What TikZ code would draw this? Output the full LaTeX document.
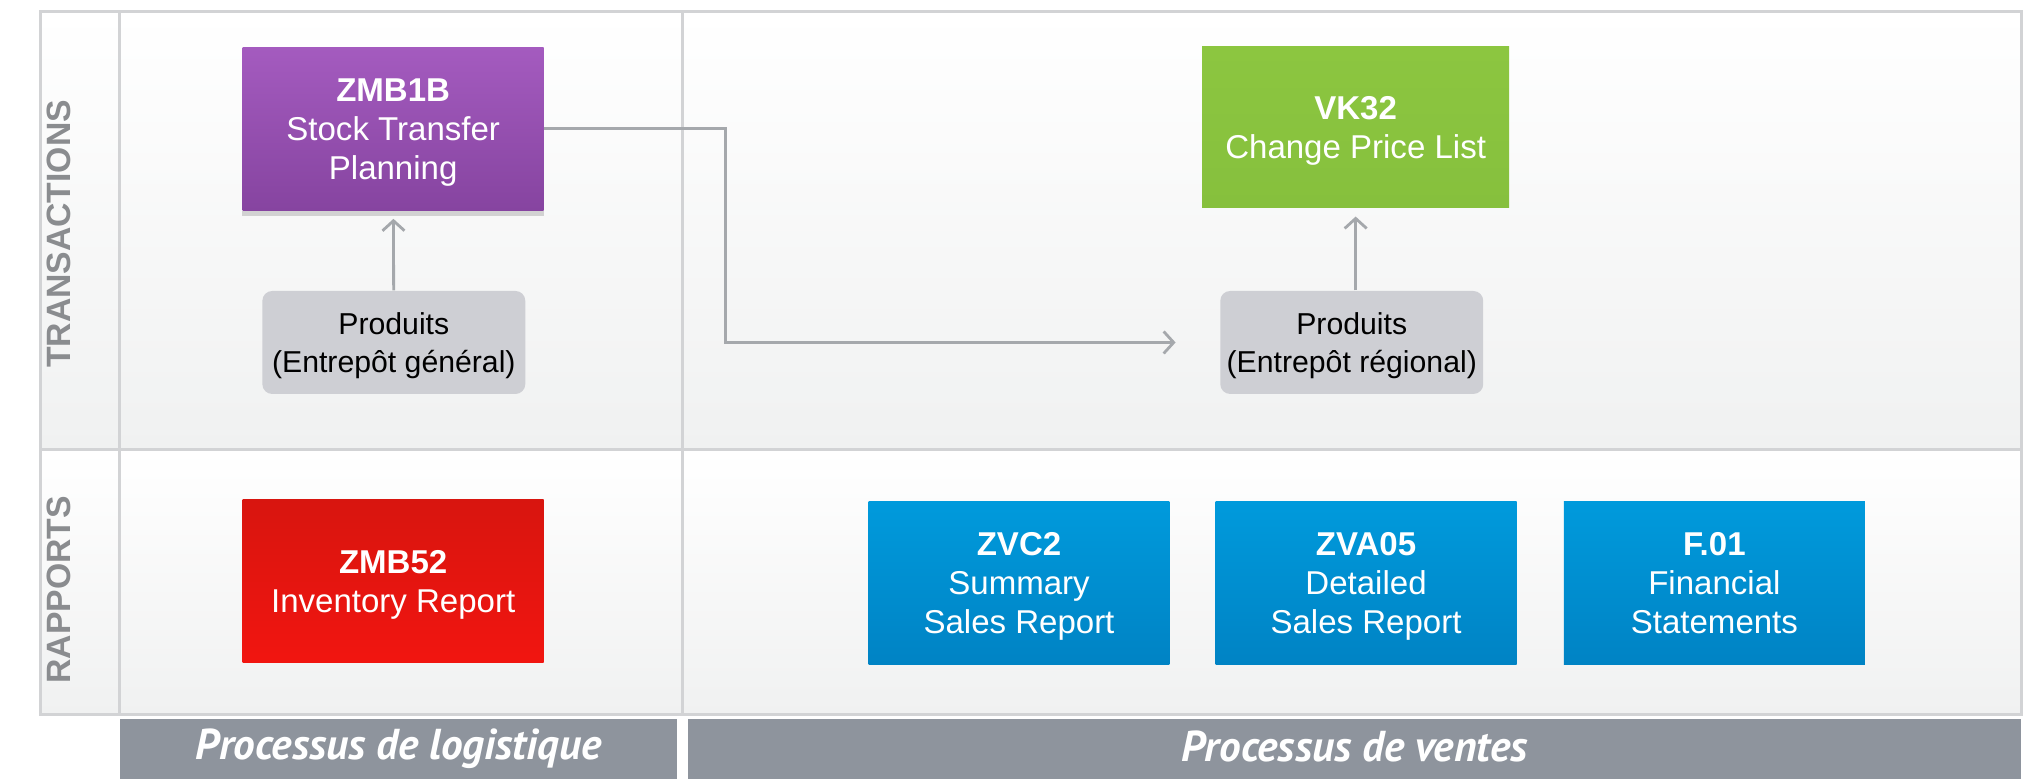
\documentclass[tikz,border=0pt]{standalone}
\usepackage{fontspec}
\setmainfont{Liberation Sans}
\newfontfamily\barfont{PT Sans}
\usetikzlibrary{arrows.meta,positioning,calc}

\definecolor{lanegray}{HTML}{D2D3D5}
\definecolor{lanefill}{HTML}{F0F1F1}
\definecolor{sidegray}{HTML}{8A8C8F}
\definecolor{bargray}{HTML}{8E949D}
\definecolor{linegray}{HTML}{A5A8AC}
\definecolor{prodgray}{HTML}{CECFD4}
\definecolor{purptop}{HTML}{A45BBF}
\definecolor{purpbot}{HTML}{8644A0}
\definecolor{greentop}{HTML}{8CC640}
\definecolor{greenbot}{HTML}{86C03D}
\definecolor{redtop}{HTML}{D8150F}
\definecolor{redbot}{HTML}{F11510}
\definecolor{bluetop}{HTML}{009ADC}
\definecolor{bluebot}{HTML}{0083C4}

\begin{document}
\begin{tikzpicture}[
    tx/.style={minimum width=3.01cm, minimum height=1.63cm, align=center, text=white, inner sep=0pt, font=\fontsize{9.4}{11.1}\selectfont, text depth=-2.3pt},
    prod/.style={fill=prodgray, rounded corners=2.8pt, minimum width=2.63cm, minimum height=1.03cm, align=center, inner sep=0pt, font=\fontsize{8.6}{10.7}\selectfont, text depth=-2.1pt},
    arr/.style={-{Straight Barb[length=1mm, width=2.2mm]}, draw=linegray, line width=0.8pt},
    lane/.style={draw=lanegray, line width=0.9pt},
    bar/.style={fill=bargray, text=white, minimum height=0.598cm, inner sep=0pt, font=\barfont\bfseries\itshape\fontsize{12.3}{12.5}\selectfont},
    side/.style={rotate=90, text=sidegray, inner sep=0pt, font=\bfseries\fontsize{9.6}{10}\selectfont}
]
\useasboundingbox (0,0) rectangle (20.384,-7.787);

\shade[top color=white, bottom color=lanefill] (0.403,-0.117) rectangle (20.215,-4.498);
\shade[top color=white, bottom color=lanefill] (0.403,-4.498) rectangle (20.215,-7.15);
\draw[lane] (0.403,-0.117) rectangle (20.215,-7.15);
\draw[lane] (0.403,-4.498) -- (20.215,-4.498);
\draw[lane] (1.196,-0.117) -- (1.196,-7.15);
\draw[lane] (6.825,-0.117) -- (6.825,-7.15);

\node[side] (trans) at (0.585,-2.34) {TRANSACTIONS};
\node[side] (rapp) at (0.585,-5.9) {RAPPORTS};

\node[bar, minimum width=5.577cm] (logi) at (3.9845,-7.488) {\raisebox{1.5pt}{Processus de logistique}};
\node[bar, minimum width=13.338cm] (ventes) at (13.546,-7.488) {\raisebox{1.5pt}{Processus de ventes}};

\node[tx, top color=purptop, bottom color=purpbot] (zmb1b) at (3.9325,-1.287) {\textbf{ZMB1B}\\Stock Transfer\\Planning};
\fill[gray!35] (zmb1b.south west) rectangle ([yshift=-0.05cm]zmb1b.south east);
\node[prod] (gen) at (3.939,-3.4255) {Produits\\(Entrepôt général)};
\node[tx, top color=greentop, bottom color=greenbot, minimum width=3.07cm, minimum height=1.61cm] (vk32) at (13.559,-1.274) {\textbf{VK32}\\Change Price List};
\node[prod] (reg) at (13.52,-3.4255) {Produits\\(Entrepôt régional)};

\node[tx, top color=redtop, bottom color=redbot] (zmb52) at (3.9325,-5.811) {\textbf{ZMB52}\\Inventory Report};
\node[tx, top color=bluetop, bottom color=bluebot] (zvc2) at (10.192,-5.83) {\textbf{ZVC2}\\Summary\\Sales Report};
\node[tx, top color=bluetop, bottom color=bluebot] (zva05) at (13.663,-5.83) {\textbf{ZVA05}\\Detailed\\Sales Report};
\node[tx, top color=bluetop, bottom color=bluebot] (f01) at (17.147,-5.83) {\textbf{F.01}\\Financial\\Statements};

\draw[arr, shorten >=0.08cm] (gen) -- (zmb1b);
\draw[arr, shorten >=0.08cm] (reg.north -| vk32) -- (vk32);
\draw[arr, shorten >=0.44cm] (zmb1b.east) -- ++(1.81,0) |- (reg.west);
\end{tikzpicture}
\end{document}
